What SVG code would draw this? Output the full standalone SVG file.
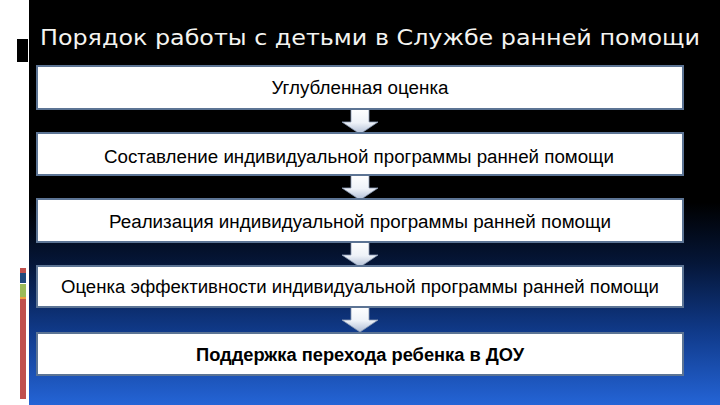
<svg xmlns="http://www.w3.org/2000/svg" width="720" height="405" viewBox="0 0 720 405">
<defs>
<linearGradient id="bg" x1="0" y1="0" x2="0" y2="1">
<stop offset="0" stop-color="#000000"/>
<stop offset="0.5" stop-color="#000000"/>
<stop offset="0.65" stop-color="#051638"/>
<stop offset="0.82" stop-color="#103a8a"/>
<stop offset="1" stop-color="#2464d6"/>
</linearGradient>
<linearGradient id="arr" x1="0" y1="0" x2="0" y2="1">
<stop offset="0" stop-color="#ffffff"/>
<stop offset="0.55" stop-color="#eef2f8"/>
<stop offset="1" stop-color="#aebcd4"/>
</linearGradient>
<style>
.box{fill:#ffffff;stroke:#5c7494;stroke-width:2}
.lbl{font-family:"Liberation Sans","Open Sans",sans-serif;font-size:18px;fill:#000000;text-anchor:middle}
.title{font-family:"DejaVu Sans","Liberation Sans",sans-serif;font-size:22px;fill:#f4f4f0}
.arrow{fill:url(#arr);stroke:#8a9ab4;stroke-width:0.8}
</style>
</defs>
<rect x="0" y="0" width="720" height="405" fill="#ffffff"/>
<rect x="29" y="0" width="691" height="405" fill="url(#bg)"/>
<rect x="17" y="39" width="11" height="23" fill="#000000"/>
<rect x="20" y="268" width="6" height="5" fill="#c0504d"/>
<rect x="20" y="273" width="6" height="10" fill="#1f497d"/>
<rect x="20" y="284" width="6" height="13" fill="#9bbb59"/>
<rect x="20" y="297" width="6" height="2" fill="#f0a040"/>
<rect x="20" y="299" width="6" height="100" fill="#c0504d"/>
<text class="title" x="40" y="45" textLength="660" lengthAdjust="spacingAndGlyphs">Порядок работы с детьми в Службе ранней помощи</text>
<g id="connectors">
<path class="arrow" d="M351,109 H369 V122 H378 L360,134 L342,122 H351 Z"/>
<path class="arrow" d="M351,175 H369 V188 H378 L360,200 L342,188 H351 Z"/>
<path class="arrow" d="M351,242 H369 V255 H378 L360,267 L342,255 H351 Z"/>
<path class="arrow" d="M351,307 H369 V320 H378 L360,332 L342,320 H351 Z"/>
</g>
<g id="node1">
<rect class="box" x="37" y="66" width="646" height="43"/>
<text class="lbl" x="360" y="94" textLength="177" lengthAdjust="spacingAndGlyphs">Углубленная оценка</text>
</g>
<g id="node2">
<rect class="box" x="37" y="133" width="646" height="42"/>
<text class="lbl" x="359" y="163" textLength="510" lengthAdjust="spacingAndGlyphs">Составление индивидуальной программы ранней помощи</text>
</g>
<g id="node3">
<rect class="box" x="37" y="199" width="646" height="43"/>
<text class="lbl" x="360" y="228" textLength="502" lengthAdjust="spacingAndGlyphs">Реализация  индивидуальной программы ранней помощи</text>
</g>
<g id="node4">
<rect class="box" x="37" y="266" width="646" height="41"/>
<text class="lbl" x="360" y="293" textLength="598" lengthAdjust="spacingAndGlyphs">Оценка эффективности индивидуальной программы ранней помощи</text>
</g>
<g id="node5">
<rect class="box" x="37" y="333" width="646" height="42"/>
<text class="lbl" x="360" y="361" textLength="328" lengthAdjust="spacingAndGlyphs" style="font-weight:bold">Поддержка перехода ребенка в ДОУ</text>
</g>
</svg>
